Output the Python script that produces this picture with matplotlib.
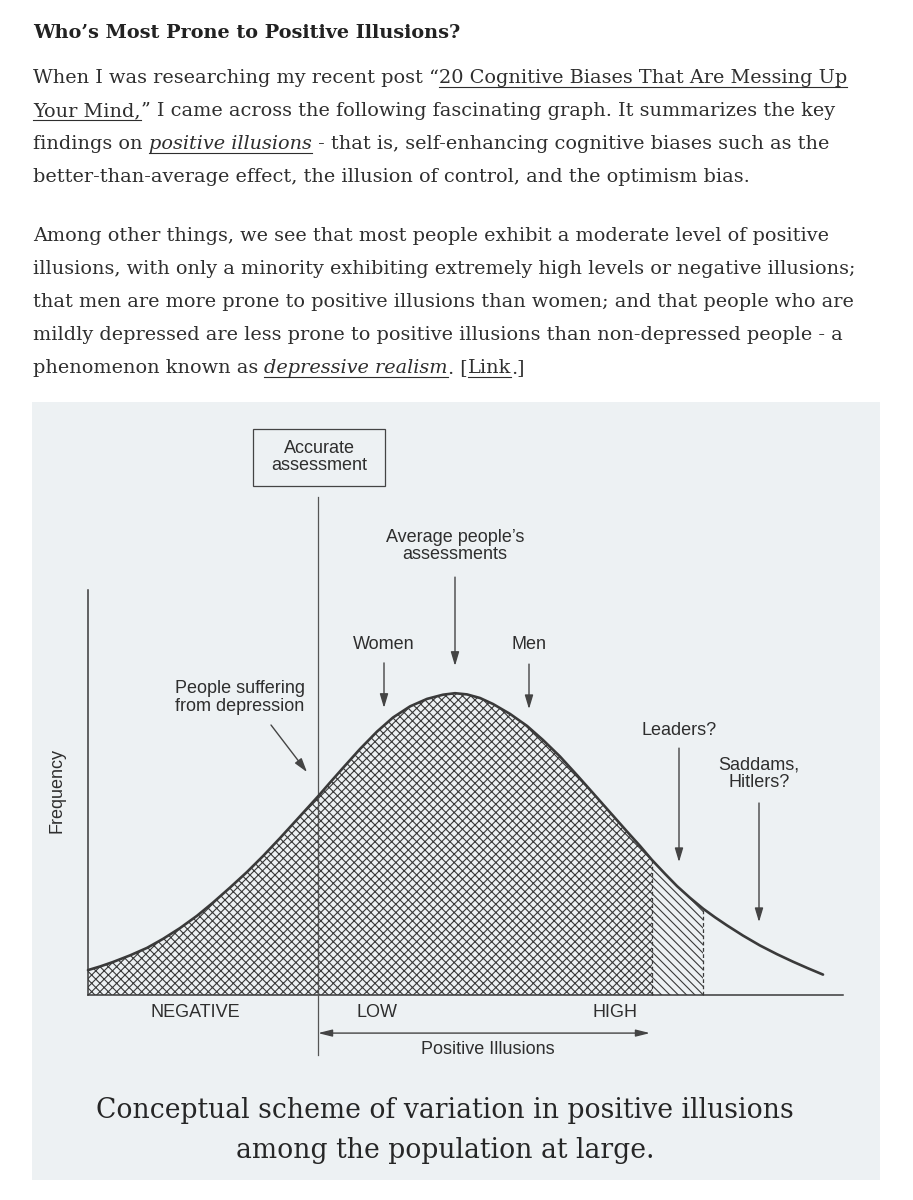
"""
Blog excerpt with the positive-illusions concept chart (scanned figure look).
"""

import matplotlib
matplotlib.use("Agg")
import matplotlib.pyplot as plt
from matplotlib.lines import Line2D
from matplotlib.patches import Rectangle

W, H = 913, 1200

# ---- chart data: x = position on the illusion scale (0 = accurate assessment)
curve_x = [-2.30, -2.18, -2.05, -1.88, -1.71, -1.55, -1.38, -1.21, -1.05, -0.88,
           -0.71, -0.55, -0.38, -0.21, 0.00, 0.12, 0.25, 0.42, 0.59, 0.75,
           0.92, 1.09, 1.25, 1.37, 1.49, 1.62, 1.75, 1.92, 2.09, 2.25,
           2.42, 2.59, 2.75, 2.92, 3.09, 3.22, 3.34, 3.47, 3.59, 3.72,
           3.85, 3.97, 4.09, 4.25, 4.42, 4.59, 4.75, 4.90, 5.05]
curve_y = [0.083, 0.095, 0.110, 0.132, 0.157, 0.187, 0.223, 0.264, 0.308, 0.358,
           0.410, 0.463, 0.523, 0.585, 0.662, 0.708, 0.757, 0.820, 0.878, 0.925,
           0.962, 0.987, 1.001, 1.006, 1.002, 0.990, 0.970, 0.937, 0.897, 0.850,
           0.795, 0.733, 0.673, 0.609, 0.545, 0.497, 0.450, 0.404, 0.363, 0.324,
           0.288, 0.259, 0.232, 0.198, 0.165, 0.136, 0.111, 0.089, 0.068]
leaders_lo, leaders_hi = 3.34, 3.85

marker_labels = ["Women", "Average people\u2019s\nassessments", "Men",
                 "Leaders?", "Saddams,\nHitlers?"]
marker_x = [0.66, 1.37, 2.11, 3.61, 4.41]
region_labels = ["NEGATIVE", "LOW", "HIGH"]
region_x = [-1.23, 0.59, 2.97]

# text y, arrow tail y, arrow tip y for each marker (layout only)
marker_layout = [(1.167, 1.107, 0.957), (1.497, 1.393, 1.097), (1.167, 1.103, 0.953),
                 (0.883, 0.823, 0.443), (0.738, 0.640, 0.243)]

heading = "Who\u2019s Most Prone to Positive Illusions?"
para1 = [
    [("When I was researching my recent post \u201c", ""),
     ("20 Cognitive Biases That Are Messing Up", "u")],
    [("Your Mind,", "u"),
     ("\u201d I came across the following fascinating graph. It summarizes the key", "")],
    [("findings on ", ""), ("positive illusions", "iu"),
     (" - that is, self-enhancing cognitive biases such as the", "")],
    [("better-than-average effect, the illusion of control, and the optimism bias.", "")],
]
para2 = [
    [("Among other things, we see that most people exhibit a moderate level of positive", "")],
    [("illusions, with only a minority exhibiting extremely high levels or negative illusions;", "")],
    [("that men are more prone to positive illusions than women; and that people who are", "")],
    [("mildly depressed are less prone to positive illusions than non-depressed people - a", "")],
    [("phenomenon known as ", ""), ("depressive realism", "iu"), (". [", ""),
     ("Link", "u"), (".]", "")],
]
caption = ["Conceptual scheme of variation in positive illusions",
           "among the population at large."]

BODY_FONT = "DejaVu Serif"
CHART_FONT = "Liberation Sans"
TEXT_COLOR = "#2e2e2e"
INK = "#3a3a3a"
SCAN_BG = "#edf1f3"

fig = plt.figure(figsize=(W / 100, H / 100), dpi=100)
fig.patch.set_facecolor("white")
renderer = fig.canvas.get_renderer()


def text_width(s, **kw):
    """Advance width of s in pixels (a sentinel keeps trailing spaces)."""
    t = fig.text(0, 0, s + "|", **kw)
    w1 = t.get_window_extent(renderer).width
    t.remove()
    t = fig.text(0, 0, "|", **kw)
    w2 = t.get_window_extent(renderer).width
    t.remove()
    return w1 - w2


def write_runs(runs, x, y, size, color, weight="normal"):
    for text, style in runs:
        kw = dict(fontsize=size, family=BODY_FONT, color=color, weight=weight,
                  style="italic" if "i" in style else "normal")
        fig.text(x / W, 1 - y / H, text, ha="left", va="baseline", **kw)
        w = text_width(text, **kw)
        if "u" in style:
            fig.add_artist(Line2D([x / W, (x + w) / W], [1 - (y + 4) / H] * 2,
                                  transform=fig.transFigure, color=color, lw=0.8))
        x += w


# ---- blog text
head_size = 10 * 429 / text_width(heading, fontsize=10, family=BODY_FONT, weight="bold")
write_runs([(heading, "")], 33, 38, head_size, "#222222", weight="bold")

line1 = "".join(t for t, _ in para1[0])
body_size = 10 * 815 / text_width(line1, fontsize=10, family=BODY_FONT)
for i, runs in enumerate(para1):
    write_runs(runs, 33, 83 + 33 * i, body_size, TEXT_COLOR)
for i, runs in enumerate(para2):
    write_runs(runs, 33, 241 + 33 * i, body_size, TEXT_COLOR)

# ---- scanned chart
ax = fig.add_axes([32 / W, 1 - 1180 / H, (880 - 32) / W, (1180 - 402) / H])
ax.set_facecolor(SCAN_BG)
ax.set_xlim(-2.86, 5.62)
ax.set_ylim(-0.6167, 1.9767)
ax.set_xticks([])
ax.set_yticks([])
for side in ["top", "right"]:
    ax.spines[side].set_visible(False)
ax.spines["left"].set_position(("data", curve_x[0]))
ax.spines["left"].set_bounds(0, 1.35)
ax.spines["bottom"].set_position(("data", 0))
ax.spines["bottom"].set_bounds(curve_x[0], 5.25)
for side in ["left", "bottom"]:
    ax.spines[side].set_color(INK)
    ax.spines[side].set_linewidth(1.1)

plt.rcParams["hatch.linewidth"] = 0.8
i_lo = curve_x.index(leaders_lo)
i_hi = curve_x.index(leaders_hi)
ax.fill_between(curve_x[:i_lo + 1], curve_y[:i_lo + 1], 0, facecolor="none",
                edgecolor=INK, hatch="xxxx", linewidth=0, zorder=2)
ax.fill_between(curve_x[i_lo:i_hi + 1], curve_y[i_lo:i_hi + 1], 0, facecolor="none",
                edgecolor=INK, hatch="\\\\\\\\", linewidth=0, zorder=2)
ax.vlines([leaders_lo, leaders_hi], 0, [curve_y[i_lo], curve_y[i_hi]],
          colors=INK, linestyles=(0, (3, 2)), lw=0.9, zorder=3)
ax.plot(curve_x, curve_y, color=INK, lw=1.9, solid_capstyle="round",
        solid_joinstyle="round", zorder=4)

# accurate assessment line and box
ax.plot([0, 0], [-0.2, 1.66], color="#555555", lw=0.9, zorder=3)
ax.add_patch(Rectangle((-0.65, 1.697), 1.32, 0.19, fill=False, ec="#444444", lw=0.9))
ax.text(0.01, 1.793, "Accurate\nassessment", ha="center", va="center", fontsize=13,
        family=CHART_FONT, color=TEXT_COLOR, linespacing=1.05)

arrow_kw = dict(arrowstyle="-|>,head_length=0.6,head_width=0.18", color="#444444",
                lw=1.0, shrinkA=0, shrinkB=0, mutation_scale=14)
for label, x, (ty, tail, tip) in zip(marker_labels, marker_x, marker_layout):
    ax.text(x, ty, label, ha="center", va="center", fontsize=13, family=CHART_FONT,
            color=TEXT_COLOR, linespacing=1.05)
    ax.annotate("", xy=(x, tip), xytext=(x, tail), arrowprops=arrow_kw)

ax.text(-0.78, 0.992, "People suffering\nfrom depression", ha="center", va="center",
        fontsize=13, family=CHART_FONT, color=TEXT_COLOR, linespacing=1.05)
ax.annotate("", xy=(-0.11, 0.743), xytext=(-0.47, 0.90), arrowprops=arrow_kw)

ax.text(-2.61, 0.683, "Frequency", rotation=90, ha="center", va="center",
        fontsize=13, family=CHART_FONT, color=TEXT_COLOR)
for label, x in zip(region_labels, region_x):
    ax.text(x, -0.06, label, ha="center", va="center", fontsize=13,
            family=CHART_FONT, color=TEXT_COLOR)
ax.annotate("", xy=(0.0, -0.127), xytext=(3.32, -0.127),
            arrowprops=dict(arrowstyle="<|-|>,head_length=0.6,head_width=0.15",
                            color="#444444", lw=1.0, shrinkA=0, shrinkB=0,
                            mutation_scale=14))
ax.text(1.70, -0.183, "Positive Illusions", ha="center", va="center", fontsize=13,
        family=CHART_FONT, color=TEXT_COLOR)

# caption of the scanned figure
cap_size = 10 * 697 / text_width(caption[0], fontsize=10, family=BODY_FONT)
for i, line in enumerate(caption):
    fig.text(445 / W, 1 - (1118 + 40 * i) / H, line, ha="center", va="baseline",
             fontsize=cap_size, family=BODY_FONT, color="#262626")

fig.savefig("out.png", dpi=100, facecolor="white")
